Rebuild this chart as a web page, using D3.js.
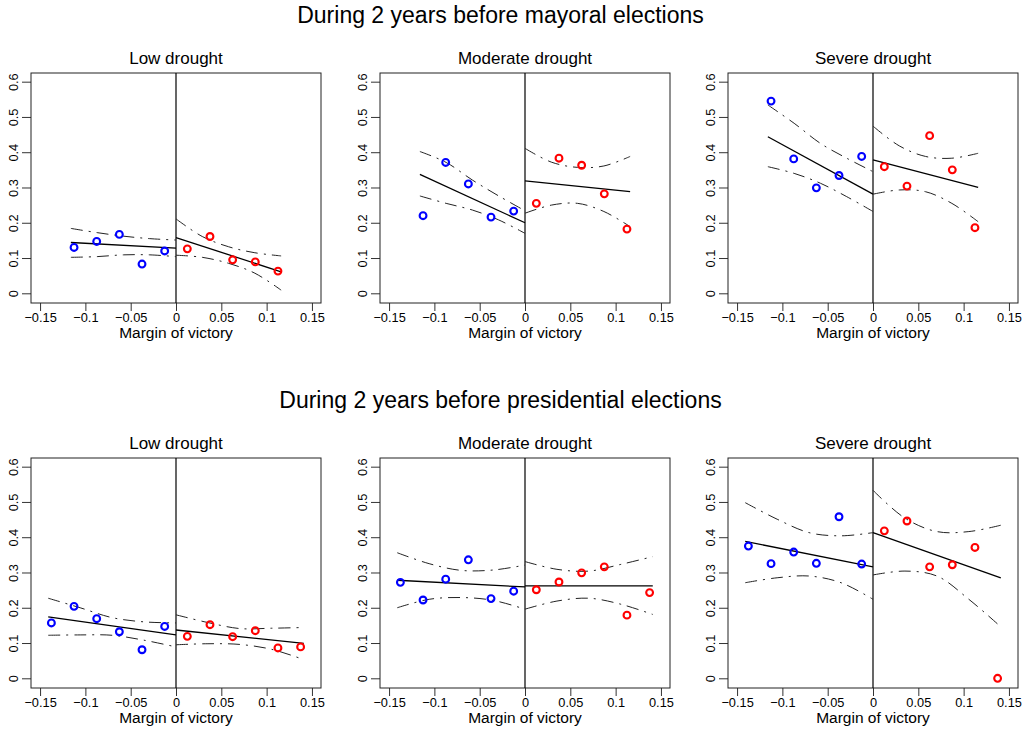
<!DOCTYPE html>
<html>
<head>
<meta charset="utf-8">
<script src="https://cdn.jsdelivr.net/npm/d3@7"></script>
<style>
  body { margin: 0; background: #fff; }
  text { font-family: "Liberation Sans", Arial, Helvetica, sans-serif; fill: #000; }
</style>
</head>
<body>
<div id="main"></div>
<script>
// Titles and ticks
const rowTitles = ["During 2 years before mayoral elections", "During 2 years before presidential elections"];
const panelTitles = ["Low drought", "Moderate drought", "Severe drought"];
const xTicks = [-0.15, -0.1, -0.05, 0, 0.05, 0.1, 0.15];
const yTicks = [0, 0.1, 0.2, 0.3, 0.4, 0.5, 0.6];

// bin centres (margin of victory)
const binsMayoral = [-0.1125, -0.0875, -0.0625, -0.0375, -0.0125, 0.0125, 0.0375, 0.0625, 0.0875, 0.1125];
const binsPresidential = [-0.1375, -0.1125, -0.0875, -0.0625, -0.0375, -0.0125, 0.0125, 0.0375, 0.0625, 0.0875, 0.1125, 0.1375];
// how far the fitted lines reach on each side of the cutoff
const fitEdge = [0.116, 0.141];

// binned means, low / moderate / severe
const mayoralPoints = [
  [0.130, 0.147, 0.167, 0.083, 0.120, 0.126, 0.161, 0.095, 0.089, 0.063],
  [0.220, 0.371, 0.310, 0.216, 0.233, 0.255, 0.383, 0.363, 0.282, 0.182],
  [0.545, 0.381, 0.299, 0.334, 0.388, 0.359, 0.304, 0.447, 0.350, 0.186]
];
const presidentialPoints = [
  [0.157, 0.204, 0.169, 0.132, 0.081, 0.147, 0.119, 0.152, 0.118, 0.135, 0.086, 0.089],
  [0.272, 0.222, 0.281, 0.336, 0.226, 0.247, 0.251, 0.273, 0.299, 0.316, 0.179, 0.243],
  [0.375, 0.325, 0.358, 0.326, 0.458, 0.324, 0.418, 0.446, 0.316, 0.322, 0.371, 0.000]
];

// fitted line: left side [at edge, at cutoff], right side [at cutoff, at edge]
const mayoralFit = [
  [[0.144, 0.128], [0.158, 0.061]],
  [[0.337, 0.200], [0.319, 0.288]],
  [[0.444, 0.281], [0.378, 0.300]]
];
const presidentialFit = [
  [[0.174, 0.123], [0.137, 0.099]],
  [[0.278, 0.259], [0.262, 0.262]],
  [[0.388, 0.316], [0.413, 0.285]]
];

// confidence bands, 5 readings evenly spread along each side
const mayoralUpper = [
  [[0.184, 0.172, 0.162, 0.155, 0.151], [0.211, 0.161, 0.132, 0.115, 0.106]],
  [[0.402, 0.371, 0.321, 0.276, 0.234], [0.411, 0.372, 0.357, 0.361, 0.388]],
  [[0.534, 0.482, 0.425, 0.383, 0.345], [0.474, 0.418, 0.388, 0.383, 0.397]]
];
const mayoralLower = [
  [[0.102, 0.104, 0.109, 0.109, 0.104], [0.108, 0.102, 0.085, 0.057, 0.009]],
  [[0.276, 0.255, 0.236, 0.208, 0.170], [0.227, 0.250, 0.255, 0.232, 0.189]],
  [[0.359, 0.340, 0.312, 0.274, 0.232], [0.281, 0.293, 0.288, 0.255, 0.203]]
];
const presidentialUpper = [
  [[0.227, 0.200, 0.172, 0.160, 0.157], [0.180, 0.158, 0.141, 0.142, 0.144]],
  [[0.356, 0.325, 0.306, 0.307, 0.321], [0.331, 0.309, 0.304, 0.323, 0.345]],
  [[0.498, 0.451, 0.413, 0.404, 0.413], [0.533, 0.454, 0.416, 0.416, 0.434]]
];
const presidentialLower = [
  [[0.122, 0.123, 0.122, 0.108, 0.089], [0.095, 0.098, 0.096, 0.082, 0.053]],
  [[0.200, 0.224, 0.229, 0.221, 0.196], [0.196, 0.219, 0.227, 0.210, 0.181]],
  [[0.271, 0.285, 0.290, 0.271, 0.224], [0.293, 0.304, 0.290, 0.224, 0.146]]
];

// layout
const ctx = {
  width: 1031,
  height: 729,
  panelLeft: [31, 380, 728],
  rowTop: [73, 458],
  panelW: 290,
  panelH: 230
};

const rows = [
  {bins: binsMayoral, points: mayoralPoints, fit: mayoralFit, upper: mayoralUpper, lower: mayoralLower},
  {bins: binsPresidential, points: presidentialPoints, fit: presidentialFit, upper: presidentialUpper, lower: presidentialLower}
];

const svg = d3.select("#main").append("svg")
  .attr("width", ctx.width)
  .attr("height", ctx.height);

const x = d3.scaleLinear().domain([-0.16, 0.16]).range([0, ctx.panelW]);
const y = d3.scaleLinear().domain([-0.0275, 0.6246]).range([ctx.panelH, 0]);

const fmt = d => d === 0 ? "0" : String(d).replace("-", "\u2212");

// spread 5 readings across one side of the cutoff
function band(vals, from, to) {
  return vals.map((v, i) => [from + (to - from) * i / (vals.length - 1), v]);
}

const curve = d3.line().x(d => x(d[0])).y(d => y(d[1])).curve(d3.curveCatmullRom);

rows.forEach((row, r) => {
  svg.append("text")
    .attr("x", 500.5)
    .attr("y", ctx.rowTop[r] - 50)
    .attr("text-anchor", "middle")
    .style("font-size", "23px")
    .text(rowTitles[r]);

  const edge = fitEdge[r];

  panelTitles.forEach((title, c) => {
    const g = svg.append("g")
      .attr("transform", `translate(${ctx.panelLeft[c]},${ctx.rowTop[r]})`);

    // axes
    const xAxis = g.append("g")
      .attr("transform", `translate(0,${ctx.panelH})`)
      .call(d3.axisBottom(x).tickValues(xTicks).tickSize(8).tickPadding(2).tickFormat(fmt));
    xAxis.select(".domain").remove();
    xAxis.selectAll("text").style("font-size", "12.8px");
    xAxis.selectAll("line").attr("stroke", "#333");

    const yAxis = g.append("g")
      .call(d3.axisLeft(y).tickValues(yTicks).tickSize(9).tickFormat(fmt));
    yAxis.select(".domain").remove();
    yAxis.selectAll("line").attr("stroke", "#333");
    yAxis.selectAll("text")
      .style("font-size", "12.8px")
      .attr("transform", "rotate(-90)")
      .attr("x", 0)
      .attr("y", -17.7)
      .attr("dy", "0.35em")
      .attr("text-anchor", "middle");

    g.append("rect")
      .attr("width", ctx.panelW)
      .attr("height", ctx.panelH)
      .attr("fill", "none")
      .attr("stroke", "#222")
      .attr("stroke-width", 1);

    // cutoff
    g.append("line")
      .attr("x1", x(0)).attr("x2", x(0))
      .attr("y1", 0).attr("y2", ctx.panelH)
      .attr("stroke", "#000")
      .attr("stroke-width", 1.2);

    // confidence bands
    const bands = [
      band(row.upper[c][0], -edge, 0), band(row.lower[c][0], -edge, 0),
      band(row.upper[c][1], 0, edge), band(row.lower[c][1], 0, edge)
    ];
    g.selectAll("path.ci").data(bands).enter().append("path")
      .attr("class", "ci")
      .attr("d", curve)
      .attr("fill", "none")
      .attr("stroke", "#222")
      .attr("stroke-width", 1)
      .attr("stroke-dasharray", "12,6,2,6");

    // fitted lines
    const fits = [
      [[-edge, row.fit[c][0][0]], [0, row.fit[c][0][1]]],
      [[0, row.fit[c][1][0]], [edge, row.fit[c][1][1]]]
    ];
    g.selectAll("path.fit").data(fits).enter().append("path")
      .attr("class", "fit")
      .attr("d", d3.line().x(d => x(d[0])).y(d => y(d[1])))
      .attr("fill", "none")
      .attr("stroke", "#000")
      .attr("stroke-width", 1.3);

    // binned means
    g.selectAll("circle").data(row.points[c]).enter().append("circle")
      .attr("cx", (d, i) => x(row.bins[i]))
      .attr("cy", d => y(d))
      .attr("r", 3.4)
      .attr("fill", "none")
      .attr("stroke", (d, i) => row.bins[i] < 0 ? "#0000ff" : "#ff0000")
      .attr("stroke-width", 2.1);

    g.append("text")
      .attr("x", ctx.panelW / 2)
      .attr("y", -9)
      .attr("text-anchor", "middle")
      .style("font-size", "17px")
      .text(title);

    g.append("text")
      .attr("x", x(0))
      .attr("y", ctx.panelH + 35)
      .attr("text-anchor", "middle")
      .style("font-size", "15.5px")
      .text("Margin of victory");
  });
});
</script>
</body>
</html>
